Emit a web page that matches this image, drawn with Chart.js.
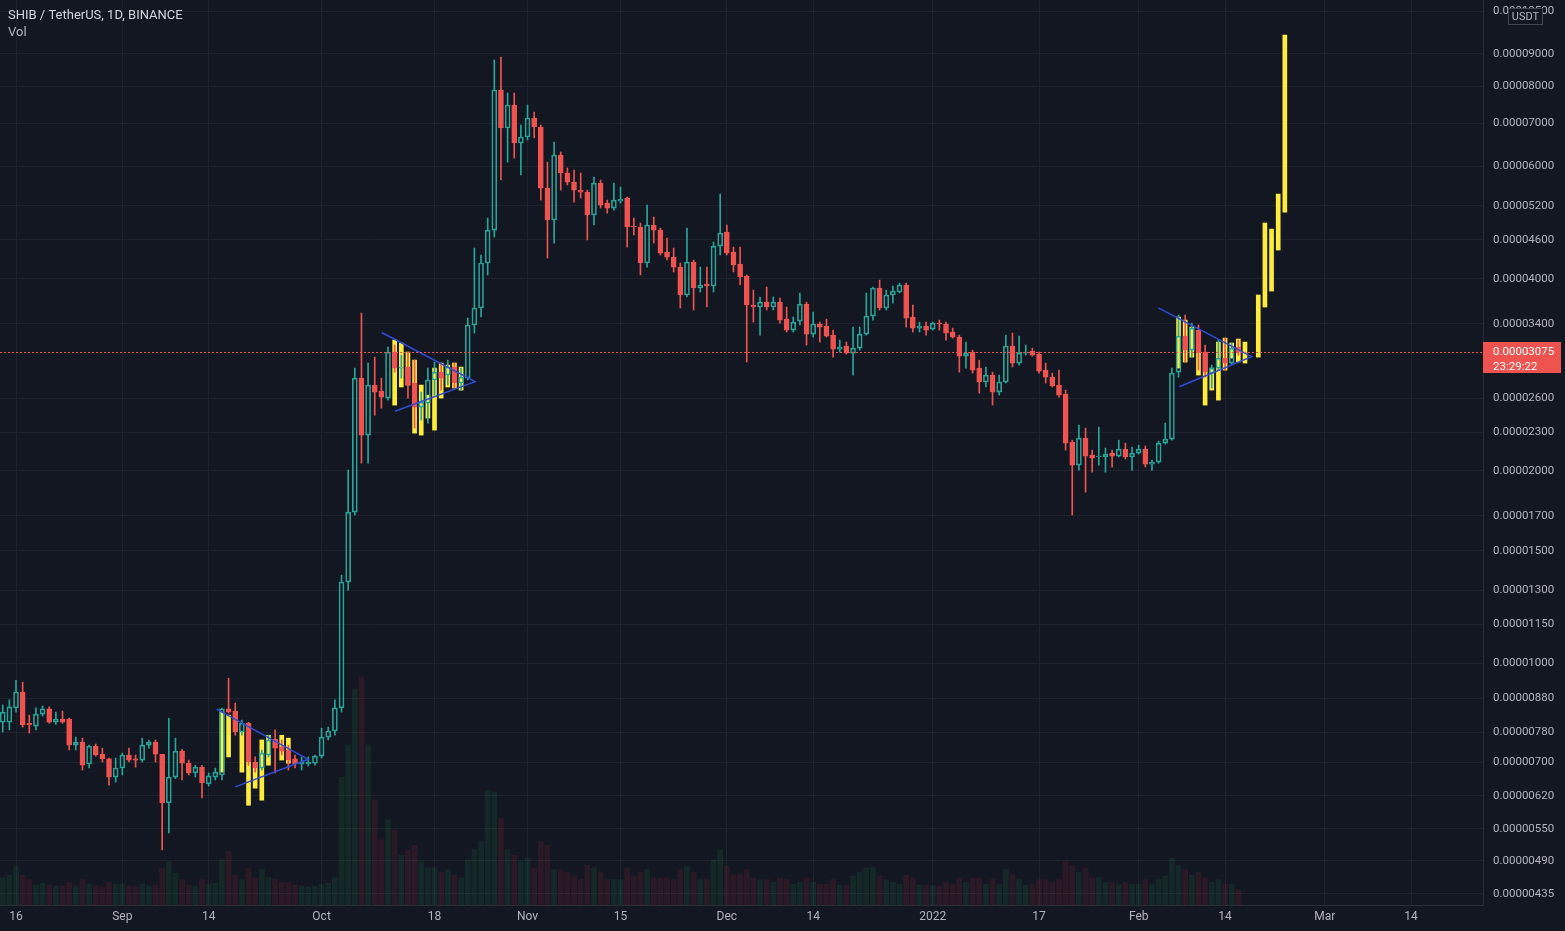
<!DOCTYPE html>
<html>
<head>
<meta charset="utf-8">
<title>SHIB / TetherUS, 1D, BINANCE</title>
<script src="https://cdn.jsdelivr.net/npm/chart.js@4.4.1/dist/chart.umd.min.js"></script>
<style>
  html, body { margin: 0; padding: 0; background: #131722; overflow: hidden; }
  #wrap { width: 1565px; height: 931px; }
</style>
</head>
<body>
<div id="wrap"><canvas id="chart" width="1565" height="931"></canvas></div>
<script>
// prices are in units of 1e-8 USDT (1000 = 0.00001000)
// day 0 = Aug 16 2021, first candle is Aug 14
const FIRST_DAY = -2;

const open = [
  808,808,851,901,805,797,832,848,808,817,
  817,744,752,695,741,720,708,663,685,718,
  708,705,744,752,720,604,663,728,697,673,
  687,647,663,668,848,841,780,805,700,685,
  718,760,739,731,708,695,695,697,715,766,
  783,851,1340,1724,2795,2276,2726,2667,2601,3070,
  2898,2909,2746,2518,2554,2776,2856,2826,2909,2746,
  2795,3385,3599,4233,4767,7900,6888,7484,6525,6668,
  7141,6913,5547,4943,6249,5856,5668,5507,5468,5033,
  5648,5255,5161,5293,5351,4837,4820,4233,4855,4767,
  4404,4325,4172,3772,4248,3868,3924,3896,4500,4733,
  4404,4218,4039,3638,3612,3677,3612,3677,3458,3324,
  3433,3651,3276,3397,3373,3264,3103,3138,3059,3115,
  3276,3496,3868,3599,3772,3813,3910,3484,3348,3373,
  3336,3409,3397,3300,3241,3026,3070,2898,2756,2826,
  2658,2756,3138,2951,3059,3081,3048,2877,2805,2726,
  2639,2219,2042,2251,2118,2103,2103,2133,2110,2164,
  2103,2133,2164,2050,2065,2211,2243,2856,3253,3092,
  3324,3070,2846,2898,3004,2951,3127
];
const high = [
  860,876,940,934,829,851,857,854,838,841,
  820,766,763,744,747,736,710,710,723,736,
  718,763,758,758,720,820,763,733,705,692,
  692,673,685,850,947,866,814,808,713,731,
  771,786,758,744,718,713,713,718,791,794,
  876,1374,2006,2898,3534,2951,3015,2795,3127,3149,
  3037,3070,2983,2658,2898,2962,2951,2983,2951,2898,
  3471,4468,4357,4978,8803,8899,7815,7815,6963,7484,
  7297,6963,6093,6549,6317,5963,5920,5856,5507,5772,
  5710,5312,5648,5567,5370,4978,4890,5217,4997,4802,
  4632,4468,4233,4802,4279,4172,4172,4565,5428,4855,
  4484,4484,4054,3840,3745,3882,3745,3731,3612,3484,
  3799,3677,3547,3421,3458,3324,3206,3183,3360,3360,
  3799,3882,3981,3840,3896,3938,3938,3638,3421,3421,
  3421,3446,3421,3348,3264,3183,3092,2983,2909,2856,
  2826,3264,3288,3252,3149,3115,3070,2951,2846,2877,
  2677,2235,2360,2334,2156,2343,2172,2156,2235,2211,
  2180,2195,2188,2080,2227,2377,2898,3509,3509,3409,
  3385,3149,2930,3206,3229,3172,3206
];
const low = [
  780,786,838,794,777,786,826,805,802,805,
  731,731,680,685,715,700,644,651,668,700,
  687,700,736,700,510,542,659,656,668,663,
  615,642,656,656,835,771,771,692,675,680,
  713,673,718,680,685,680,690,692,710,758,
  771,838,1301,1706,2057,2057,2446,2508,2582,2856,
  2795,2601,2334,2403,2377,2629,2677,2726,2697,2677,
  2776,3288,3484,4054,4649,5710,6093,6181,5814,6596,
  6644,5312,4310,4549,5507,5608,5274,5351,4599,4855,
  5161,5069,5124,5255,4484,4682,4054,4172,4549,4357,
  4279,4098,3599,3745,3573,3813,3612,3813,4357,4357,
  4098,3910,2962,3421,3264,3573,3573,3409,3300,3300,
  3385,3149,3241,3183,3241,3015,3070,3048,2826,3092,
  3264,3446,3573,3573,3664,3799,3360,3300,3300,3264,
  3324,3324,3206,3229,2856,2898,2846,2648,2707,2536,
  2629,2746,2909,2930,3037,3026,2846,2746,2707,2610,
  2156,1706,2006,1853,1991,2042,1991,2028,2103,2088,
  2006,2125,2028,2006,2057,2203,2235,2805,2962,3015,
  2877,2805,2697,2877,2877,2930,3037
];
const close = [
  838,854,901,800,800,832,848,808,817,808,
  744,752,692,741,718,708,663,685,718,705,
  705,744,752,720,604,663,728,697,673,687,
  649,666,675,848,838,780,805,700,685,723,
  758,736,728,705,695,700,700,715,766,783,
  851,1340,1724,2795,2276,2726,2658,2610,3070,2898,
  2909,2726,2518,2563,2776,2856,2795,2909,2746,2805,
  3385,3599,4233,4767,7900,6888,7484,6525,6668,7141,
  6913,5547,4943,6249,5856,5668,5507,5468,5033,5648,
  5217,5161,5312,5331,4820,4820,4233,4855,4767,4388,
  4325,4172,3772,4248,3868,3910,3896,4500,4716,4388,
  4203,4025,3638,3612,3677,3612,3677,3446,3324,3421,
  3651,3276,3397,3360,3253,3103,3127,3059,3115,3276,
  3496,3868,3599,3772,3827,3910,3471,3348,3373,3324,
  3409,3397,3288,3241,3026,3059,2877,2756,2826,2658,
  2756,3138,2951,3059,3070,3037,2866,2805,2717,2629,
  2211,2042,2251,2110,2095,2110,2125,2110,2164,2103,
  2133,2164,2050,2065,2211,2243,2846,3253,3092,3348,
  3070,2856,2898,3004,2951,3115,3075
];
// volume, trillions of SHIB
const volume = [
  3.0,3.3,4.2,3.3,2.8,2.2,2.4,2.2,2.1,2.1,
  2.5,2.1,2.8,2.3,2.1,2.0,2.5,2.3,2.3,2.1,
  2.0,2.3,2.1,2.2,4.1,4.8,3.5,2.8,2.2,2.1,
  2.8,2.3,2.4,5.0,5.9,3.3,2.8,4.1,3.0,3.9,
  3.0,2.8,2.5,2.5,2.2,2.1,2.0,2.1,2.3,2.4,
  3.0,14.1,17.7,23.8,25.2,17.7,11.6,7.2,9.4,8.3,
  5.5,6.1,6.6,4.8,4.1,4.1,3.6,3.9,3.3,3.0,
  5.0,6.1,7.0,12.7,12.5,9.6,6.1,5.5,4.8,5.2,
  4.1,7.0,6.6,3.9,3.9,3.6,3.2,2.8,4.4,4.1,
  3.6,2.8,2.8,2.8,4.1,3.2,3.6,3.9,3.0,3.0,
  3.0,2.8,3.9,4.3,3.6,2.8,2.8,5.0,6.1,4.3,
  3.3,3.4,3.9,3.0,2.8,2.8,2.5,3.0,2.8,2.3,
  2.5,3.0,2.5,2.3,2.3,2.8,2.2,2.2,3.2,3.6,
  4.1,4.1,3.2,2.8,2.5,2.3,3.3,3.0,2.2,2.2,
  2.1,2.1,2.5,2.3,3.0,2.5,3.0,3.0,2.3,2.8,
  2.3,3.9,3.4,2.8,2.2,2.3,2.8,2.8,2.5,2.8,
  4.8,4.4,3.6,4.1,3.0,3.0,2.5,2.5,2.3,2.5,
  2.3,2.3,2.8,2.3,2.8,3.2,5.2,4.4,3.9,3.3,
  3.6,3.0,2.5,2.8,2.3,2.3,1.7
];

// yellow "bars pattern" drawing (high-low lines)
const patternDays = [31,32,34,35,36,37,38,40,41, 57,58,59,60,61,62,63,64,65,66,67,
  175,176,177,178,179,180,181,182,183,184,185, 187,188,189,190,191];
const patternHigh = [838,829,780,736,685,758,771,771,763, 3206,3172,3070,2983,2726,2629,2898,2951,2930,2951,2909,
  3484,3446,3360,3070,2856,2898,3183,3229,3172,3218,3183, 3772,4890,4784,5428,9634];
const patternLow = [675,713,675,599,637,610,692,705,697, 2536,2707,2726,2292,2276,2420,2317,2601,2707,2697,2677,
  2898,2962,3015,2826,2536,2677,2582,2877,3004,2962,2951, 3015,3612,3826,4436,5087];

// triangle drawings: upper start, apex, lower start
const triangleDays = [[30.2, 43.96, 33.0], [55.05, 69.1, 57.05], [171.96, 186.0, 175.1]];
const trianglePrices = [[847, 707, 640], [3295, 2760, 2480], [3600, 3020, 2710]];

const xTickDays = [0, 16, 29, 46, 63, 77, 91, 107, 120, 138, 154, 169, 182, 197, 210];
const xTickLabels = ['16', 'Sep', '14', 'Oct', '18', 'Nov', '15', 'Dec', '14', '2022', '17', 'Feb', '14', 'Mar', '14'];
const yTickValues = [10500, 9000, 8000, 7000, 6000, 5200, 4600, 4000, 3400, 2600, 2300, 2000,
  1700, 1500, 1300, 1150, 1000, 880, 780, 700, 620, 550, 490, 435];

const lastPrice = 3075;
const countdown = '23:29:22';

const BG = '#131722';
const GRID = '#1e222d';
const AXIS_LINE = '#2a2e39';
const TEXT = '#b2b5be';
const GREEN = '#26a69a';
const RED = '#ef5350';
const YELLOW = '#ffeb3b';
const BLUE = '#2f4bd9';
const FONT = 'Roboto, "Liberation Sans", sans-serif';

const days = open.map((_, i) => FIRST_DAY + i);
const up = close.map((c, i) => c >= open[i]);
const wickColors = up.map(u => u ? GREEN : RED);

const triangleSets = triangleDays.map((t, k) => ({
  type: 'line',
  label: 'triangle ' + (k + 1),
  data: t.map((d, j) => ({ x: d, y: trianglePrices[k][j] })),
  borderColor: BLUE,
  borderWidth: 1.5,
  pointRadius: 0,
  fill: false,
  tension: 0,
  order: 0
}));

function noPadding(s) {
  s.paddingTop = 0;
  s.paddingBottom = 0;
  s.paddingLeft = 0;
  s.paddingRight = 0;
}

const overlay = {
  id: 'overlay',
  beforeDraw(chart) {
    const ctx = chart.ctx;
    ctx.save();
    ctx.fillStyle = BG;
    ctx.fillRect(0, 0, chart.width, chart.height);
    ctx.restore();
  },
  afterDatasetsDraw(chart) {
    const { ctx, chartArea } = chart;
    const y = Math.round(chart.scales.y.getPixelForValue(lastPrice)) + 0.5;
    ctx.save();
    ctx.strokeStyle = RED;
    ctx.lineWidth = 1;
    ctx.setLineDash([2, 2]);
    ctx.beginPath();
    ctx.moveTo(chartArea.left, y);
    ctx.lineTo(chartArea.right, y);
    ctx.stroke();
    ctx.restore();
  },
  afterDraw(chart) {
    const { ctx, chartArea } = chart;
    const y = chart.scales.y.getPixelForValue(lastPrice);
    ctx.save();
    // last price label
    ctx.fillStyle = RED;
    ctx.fillRect(chartArea.right, Math.round(y) - 10, 78, 31);
    ctx.fillStyle = '#ffffff';
    ctx.font = '11.5px ' + FONT;
    ctx.textBaseline = 'middle';
    ctx.textAlign = 'left';
    ctx.fillText((lastPrice / 1e8).toFixed(8), chartArea.right + 10, y);
    ctx.fillText(countdown, chartArea.right + 10, y + 15);

    // currency box
    ctx.fillStyle = BG;
    ctx.fillRect(1508, 8, 34, 16);
    ctx.strokeStyle = '#434651';
    ctx.lineWidth = 1;
    ctx.strokeRect(1508.5, 8.5, 34, 16);
    ctx.fillStyle = TEXT;
    ctx.font = '11px ' + FONT;
    ctx.textAlign = 'center';
    ctx.fillText('USDT', 1525.5, 17);

    // legend text
    ctx.textAlign = 'left';
    ctx.font = '13px ' + FONT;
    ctx.fillStyle = '#d1d4dc';
    ctx.fillText('SHIB / TetherUS, 1D, BINANCE', 8, 16);
    ctx.fillStyle = TEXT;
    ctx.fillText('Vol', 8, 33);
    ctx.restore();
  }
};

new Chart(document.getElementById('chart'), {
  type: 'bar',
  data: {
    datasets: [
      ...triangleSets,
      {
        label: 'bodies',
        data: days.map((d, i) => ({ x: d, y: [open[i], close[i]] })),
        backgroundColor: up.map(u => u ? 'rgba(0,0,0,0)' : RED),
        borderColor: wickColors,
        borderWidth: 1,
        borderSkipped: false,
        barThickness: 5,
        grouped: false,
        order: 1
      },
      {
        label: 'upper wicks',
        data: days.map((d, i) => ({ x: d, y: [Math.max(open[i], close[i]), high[i]] })),
        backgroundColor: wickColors,
        barThickness: 1,
        grouped: false,
        order: 2
      },
      {
        label: 'lower wicks',
        data: days.map((d, i) => ({ x: d, y: [low[i], Math.min(open[i], close[i])] })),
        backgroundColor: wickColors,
        barThickness: 1,
        grouped: false,
        order: 2
      },
      {
        label: 'bars pattern',
        data: patternDays.map((d, i) => ({ x: d, y: [patternLow[i], patternHigh[i]] })),
        backgroundColor: YELLOW,
        barThickness: 4,
        grouped: false,
        order: 3
      },
      {
        label: 'Vol',
        yAxisID: 'yv',
        data: days.map((d, i) => ({ x: d, y: volume[i] })),
        backgroundColor: up.map(u => u ? 'rgba(34,171,80,0.12)' : 'rgba(242,54,69,0.11)'),
        barThickness: 5,
        grouped: false,
        order: 4
      }
    ]
  },
  options: {
    responsive: false,
    animation: false,
    devicePixelRatio: 1,
    layout: { padding: 0 },
    plugins: {
      legend: { display: false },
      tooltip: { enabled: false },
      title: { display: false }
    },
    scales: {
      x: {
        type: 'linear',
        min: -2.41,
        max: 220.83,
        offset: false,
        grid: { color: GRID, drawTicks: false, offset: false },
        border: { color: AXIS_LINE },
        ticks: {
          color: TEXT,
          font: { family: FONT, size: 12 },
          padding: 5,
          autoSkip: false,
          maxRotation: 0,
          callback: v => {
            const i = xTickDays.indexOf(v);
            return i < 0 ? '' : xTickLabels[i];
          }
        },
        afterBuildTicks: s => { s.ticks = xTickDays.map(v => ({ value: v })); },
        afterFit: s => { s.height = 26; noPadding(s); }
      },
      y: {
        type: 'logarithmic',
        position: 'right',
        min: 418,
        max: 10930,
        grid: { color: GRID, drawTicks: false },
        border: { color: AXIS_LINE },
        ticks: {
          color: TEXT,
          font: { family: FONT, size: 11.5 },
          padding: 10,
          autoSkip: false,
          callback: v => (v / 1e8).toFixed(8)
        },
        afterBuildTicks: s => { s.ticks = yTickValues.map(v => ({ value: v })); },
        afterFit: s => { s.width = 82; noPadding(s); }
      },
      yv: {
        type: 'linear',
        display: false,
        min: 0,
        max: 100
      }
    }
  },
  plugins: [overlay]
});
</script>
</body>
</html>
